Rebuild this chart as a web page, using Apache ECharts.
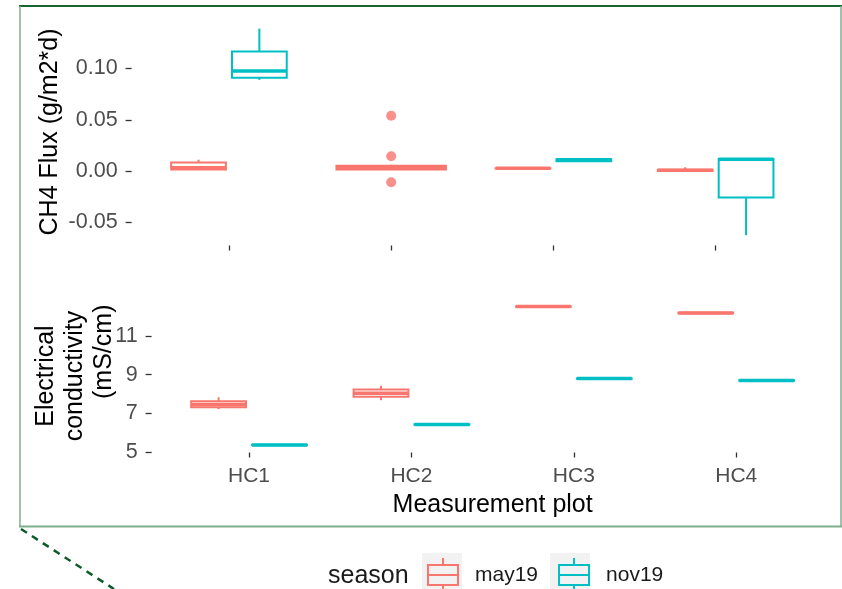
<!DOCTYPE html>
<html>
<head>
<meta charset="utf-8">
<script src="https://cdn.jsdelivr.net/npm/echarts@6/dist/echarts.min.js"></script>
<style>html,body{margin:0;padding:0;background:#fff}#c{width:842px;height:589px}</style>
</head>
<body>
<div id="c"></div>
<script>
// ---- data ----
const categories = ['HC1', 'HC2', 'HC3', 'HC4'];
const seasons = ['may19', 'nov19'];
// box stats per category: [min, q1, median, q3, max]; null = no box
const ch4May19 = [
  [0.0015, 0.0015, 0.0032, 0.0083, 0.011],
  [0.001, 0.0015, 0.0035, 0.005, 0.006],
  [0.0024, 0.0025, 0.0026, 0.0027, 0.0028],
  [-0.0005, 0.0, 0.0006, 0.0012, 0.0036]
];
const ch4Nov19 = [
  [0.089, 0.091, 0.0977, 0.1167, 0.139],
  null,
  [0.009, 0.0095, 0.011, 0.0115, 0.012],
  [-0.0627, -0.0258, 0.0115, 0.0118, 0.0118]
];
const ch4May19Outliers = [['HC2', 0.0539], ['HC2', 0.0144], ['HC2', -0.011]];
const ecMay19 = [
  [7.23, 7.33, 7.47, 7.64, 7.84],
  [7.69, 7.86, 8.05, 8.24, 8.43],
  [12.49, 12.50, 12.51, 12.52, 12.53],
  [12.16, 12.17, 12.18, 12.19, 12.20]
];
const ecNov19 = [
  [5.36, 5.37, 5.38, 5.39, 5.40],
  [6.42, 6.43, 6.44, 6.45, 6.46],
  [8.78, 8.79, 8.80, 8.81, 8.82],
  [8.68, 8.69, 8.70, 8.71, 8.72]
];
const ch4Ticks = [-0.05, 0, 0.05, 0.10];
const ecTicks = [5, 7, 9, 11];

// ---- style ----
const COLORS = {may19: '#F8766D', nov19: '#00BFC4'};
const FONT = "'Liberation Sans', Arial, sans-serif";
const catPos = categories.map((c, i) => i + 1);

function toData(stats) {
  return stats.map((s, i) => s ? [catPos[i]].concat(s) : null).filter(Boolean);
}
function boxRender(color, side, other) {
  return function (params, api) {
    const pos = api.value(0);
    const single = !other[pos - 1];
    const half = single ? 0.3375 : 0.16875;
    const c = single ? pos : pos + side * 0.1875;
    const v = [1, 2, 3, 4, 5].map(i => api.value(i));
    const y = v.map(val => api.coord([c, val])[1]);
    const xL = api.coord([c - half, v[0]])[0];
    const xR = api.coord([c + half, v[0]])[0];
    const xC = api.coord([c, v[0]])[0];
    const st = {stroke: color, lineWidth: 2};
    return {
      type: 'group',
      children: [
        {type: 'line', shape: {x1: xC, y1: y[4], x2: xC, y2: y[3]}, style: st},
        {type: 'line', shape: {x1: xC, y1: y[1], x2: xC, y2: y[0]}, style: st},
        {type: 'rect', shape: {x: xL, y: y[3], width: xR - xL, height: y[1] - y[3]},
          style: {fill: '#fff', stroke: color, lineWidth: 2}},
        {type: 'line', shape: {x1: xL, y1: y[2], x2: xR, y2: y[2]},
          style: {stroke: color, lineWidth: 3.5}}
      ]
    };
  };
}
const boxIcon = 'path://M15,0L15,7M0,7L30,7L30,27L0,27ZM0,17L30,17M15,27L15,34';

const xAxisBase = {
  type: 'value', min: 0.4, max: 4.6,
  axisLine: {show: false, onZero: false}, splitLine: {show: false},
  nameMoveOverlap: false,
  axisTick: {show: true, length: 5, customValues: catPos, lineStyle: {color: '#333', width: 1.3}}
};
const yAxisBase = {
  type: 'value', axisLine: {show: false, onZero: false}, splitLine: {show: false},
  nameLocation: 'middle', nameMoveOverlap: false,
  nameTextStyle: {fontFamily: FONT, fontSize: 25, color: '#000'}
};

const chart = echarts.init(document.getElementById('c'), null, {renderer: 'canvas'});
chart.setOption({
  animation: false,
  backgroundColor: '#fff',
  grid: [
    {left: 131.6, right: 29, top: 18.4, bottom: 343.5},
    {left: 151.6, right: 8.3, top: 299.6, bottom: 136.5}
  ],
  xAxis: [
    Object.assign({}, xAxisBase, {gridIndex: 0, position: 'bottom', axisLabel: {show: false}}),
    Object.assign({}, xAxisBase, {
      gridIndex: 1, position: 'bottom',
      name: 'Measurement plot', nameLocation: 'middle', nameGap: 40,
      nameTextStyle: {fontFamily: FONT, fontSize: 25, color: '#000'},
      axisLabel: {customValues: catPos, margin: 13, fontFamily: FONT, fontSize: 21, color: '#4D4D4D',
        formatter: v => categories[Math.round(v) - 1]}
    })
  ],
  yAxis: [
    Object.assign({}, yAxisBase, {
      gridIndex: 0, min: -0.0728, max: 0.149,
      name: 'CH4 Flux (g/m2*d)', nameGap: 69,
      axisTick: {show: true, length: 6, customValues: ch4Ticks, lineStyle: {color: '#333', width: 1.3}},
      axisLabel: {customValues: ch4Ticks, margin: 14, fontFamily: FONT, fontSize: 21.5, color: '#4D4D4D',
        formatter: v => v.toFixed(2)}
    }),
    Object.assign({}, yAxisBase, {
      gridIndex: 1, min: 4.995, max: 12.87,
      name: 'Electrical\nconductivity\n       (mS/cm)', nameGap: 33,
      nameTextStyle: {fontFamily: FONT, fontSize: 25, color: '#000', lineHeight: 29},
      axisTick: {show: true, length: 6, customValues: ecTicks, lineStyle: {color: '#333', width: 1.3}},
      axisLabel: {customValues: ecTicks, margin: 14, fontFamily: FONT, fontSize: 21.5, color: '#4D4D4D',
        formatter: v => String(v)}
    })
  ],
  legend: {
    left: 427, top: 557, orient: 'horizontal', padding: 0,
    itemWidth: 30, itemHeight: 34, itemGap: 20,
    textStyle: {fontFamily: FONT, fontSize: 21, color: '#1a1a1a', padding: [2, 0, 0, 12]},
    data: seasons.map(s => ({name: s, icon: boxIcon,
      itemStyle: {color: 'rgba(0,0,0,0)', borderColor: COLORS[s], borderWidth: 2}}))
  },
  graphic: [
    {type: 'line', shape: {x1: 19, y1: 6, x2: 842, y2: 6}, style: {stroke: '#17652F', lineWidth: 2}},
    {type: 'line', shape: {x1: 20, y1: 6, x2: 20, y2: 527}, style: {stroke: '#7FAE8D', lineWidth: 1.5}},
    {type: 'line', shape: {x1: 19, y1: 526.5, x2: 842, y2: 526.5}, style: {stroke: '#7FAE8D', lineWidth: 2}},
    {type: 'line', shape: {x1: 841, y1: 6, x2: 841, y2: 527}, style: {stroke: '#7FAE8D', lineWidth: 1.5}},
    {type: 'line', shape: {x1: 21, y1: 529, x2: 114, y2: 589},
      style: {stroke: '#0E5A28', lineWidth: 2.5, lineDash: [7, 6]}},
    {type: 'rect', shape: {x: 422, y: 553, width: 40, height: 44}, style: {fill: '#F2F2F2'}},
    {type: 'rect', shape: {x: 550, y: 553, width: 40, height: 44}, style: {fill: '#F2F2F2'}},
    {type: 'text', x: 328, y: 576, style: {text: 'season', fontFamily: FONT, fontSize: 25,
      fill: '#1a1a1a', verticalAlign: 'middle', align: 'left'}}
  ],
  series: [
    {name: 'may19', type: 'custom', xAxisIndex: 0, yAxisIndex: 0, data: toData(ch4May19),
      renderItem: boxRender(COLORS.may19, -1, ch4Nov19)},
    {name: 'nov19', type: 'custom', xAxisIndex: 0, yAxisIndex: 0, data: toData(ch4Nov19),
      renderItem: boxRender(COLORS.nov19, 1, ch4May19)},
    {name: 'may19 outliers', type: 'scatter', xAxisIndex: 0, yAxisIndex: 0,
      data: ch4May19Outliers.map(d => [catPos[categories.indexOf(d[0])], d[1]]),
      symbolSize: 10, itemStyle: {color: COLORS.may19}},
    {name: 'may19', type: 'custom', xAxisIndex: 1, yAxisIndex: 1, data: toData(ecMay19),
      renderItem: boxRender(COLORS.may19, -1, ecNov19)},
    {name: 'nov19', type: 'custom', xAxisIndex: 1, yAxisIndex: 1, data: toData(ecNov19),
      renderItem: boxRender(COLORS.nov19, 1, ecMay19)}
  ]
});
</script>
</body>
</html>
